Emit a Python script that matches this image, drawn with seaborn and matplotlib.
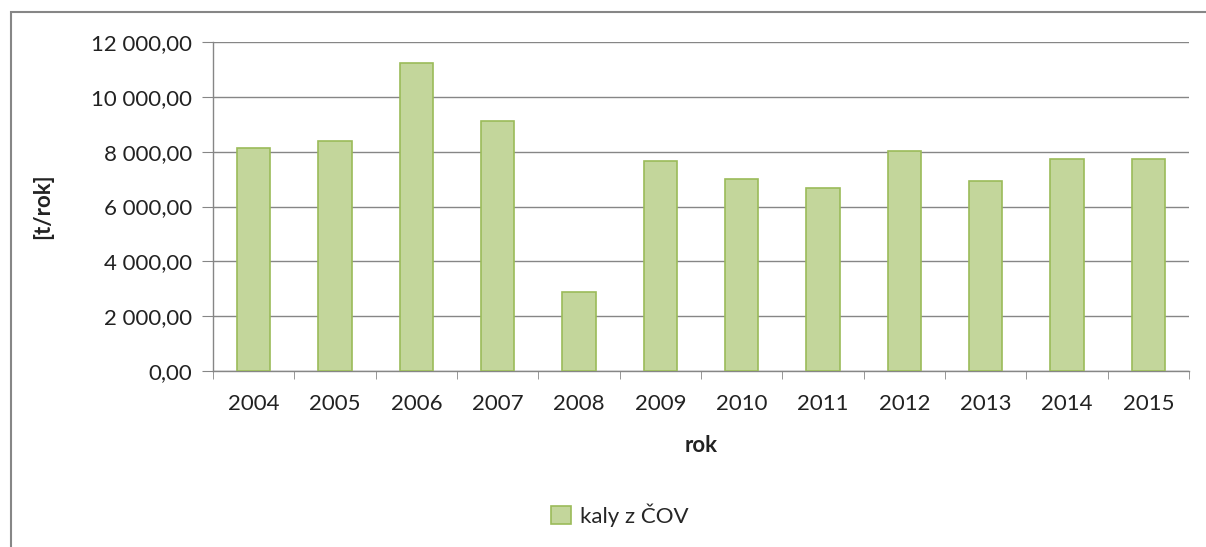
import matplotlib
matplotlib.use("Agg")
import matplotlib.pyplot as plt
import matplotlib.ticker as ticker
from matplotlib.patches import Rectangle
import seaborn as sns
import pandas as pd

# data
years = ["2004", "2005", "2006", "2007", "2008", "2009",
         "2010", "2011", "2012", "2013", "2014", "2015"]
kaly = [8120, 8400, 11220, 9130, 2880, 7670,
        6990, 6680, 8040, 6940, 7720, 7720]
series_name = "kaly z ČOV"

df = pd.DataFrame({"rok": years, "t": kaly})

sns.set_style("white")
plt.rcParams["font.family"] = ["Lato", "DejaVu Sans"]

fig = plt.figure(figsize=(12.06, 5.47), dpi=100)
ax = fig.add_axes([213 / 1206, 1 - 371 / 547, 976 / 1206, 329 / 547])

# outer chart frame
fig.patches.append(Rectangle((11 / 1206, -0.05), 1.1, 1 - 12 / 547 + 0.05,
                             transform=fig.transFigure, fill=False,
                             edgecolor="#868686", linewidth=1.5, zorder=0))

sns.barplot(data=df, x="rok", y="t", color="#C3D69B", width=0.41,
            edgecolor="#9BBB59", linewidth=1.2, saturation=1,
            label=series_name, ax=ax, zorder=3)

ax.set_xlim(-0.5, len(years) - 0.5)
ax.set_ylim(0, 12000)
ax.set_yticks(range(0, 12001, 2000))

def fmt(y, _):
    return "{:,.2f}".format(y).replace(",", " ").replace(".", ",")

ax.yaxis.set_major_formatter(ticker.FuncFormatter(fmt))
ax.yaxis.grid(True, color="#868686", linewidth=1)
ax.set_axisbelow(True)

for s in ["top", "right"]:
    ax.spines[s].set_visible(False)
for s in ["left", "bottom"]:
    ax.spines[s].set_color("#868686")
    ax.spines[s].set_linewidth(1)

ax.tick_params(axis="y", which="major", left=True, length=8, color="#868686",
               labelsize=16, pad=7, labelcolor="#222222")
ax.tick_params(axis="x", which="major", bottom=False, labelsize=16, pad=13,
               labelcolor="#222222")
ax.set_xticks([i - 0.5 for i in range(len(years) + 1)], minor=True)
ax.tick_params(axis="x", which="minor", bottom=True, length=6, color="#868686")

ax.set_xlabel("rok", fontsize=16, fontweight="bold", color="#222222")
ax.set_ylabel("[t/rok]", fontsize=16, fontweight="bold", color="#222222")
ax.xaxis.set_label_coords(0.5, (371 - 435) / 329)
ax.yaxis.set_label_coords((53 - 213) / 976, 0.5)

ax.legend(loc="center", bbox_to_anchor=(620 / 1206, 1 - 515 / 547),
          bbox_transform=fig.transFigure, frameon=False, fontsize=16,
          handlelength=0.9, handleheight=0.9, handletextpad=0.4)

fig.savefig("out.png", dpi=100)
